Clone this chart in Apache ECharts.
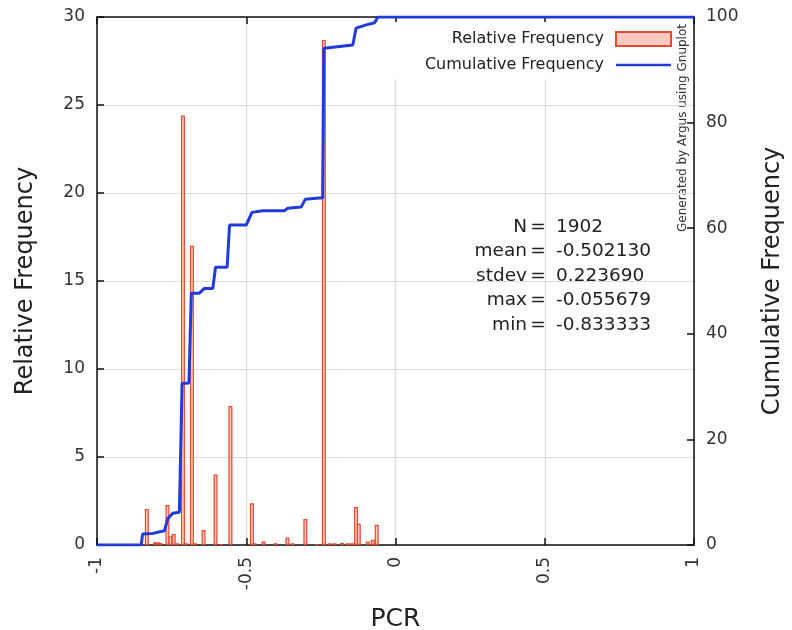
<!DOCTYPE html>
<html>
<head>
<meta charset="utf-8">
<script src="https://cdn.jsdelivr.net/npm/echarts@6/dist/echarts.min.js"></script>
<style>
  html, body { margin: 0; padding: 0; background: #fff; }
  #chart { width: 792px; height: 630px; }
</style>
</head>
<body>
<div id="chart"></div>
<script>
// PCR 直方图 + 累计频率
var FONT = 'DejaVu Sans';

// 相对频率 (%), [PCR, 值]
var relFreq = [
    [-0.833, 2.05], [-0.805, 0.15], [-0.797, 0.15], [-0.788, 0.12], [-0.764, 2.27],
    [-0.754, 0.5], [-0.743, 0.63], [-0.731, 0.1], [-0.712, 24.4], [-0.702, 0.1],
    [-0.682, 17.0], [-0.672, 0.1], [-0.643, 0.85], [-0.603, 4.0], [-0.585, 0.05],
    [-0.553, 7.9], [-0.481, 2.37], [-0.472, 0.1], [-0.442, 0.2], [-0.402, 0.1],
    [-0.362, 0.42], [-0.345, 0.1], [-0.302, 1.48], [-0.263, 0.05], [-0.240, 28.7],
    [-0.221, 0.1], [-0.204, 0.1], [-0.179, 0.12], [-0.160, 0.1], [-0.146, 0.1],
    [-0.132, 2.16], [-0.123, 1.21], [-0.093, 0.2], [-0.076, 0.3], [-0.063, 1.15]
];

// 累计频率 (%), [PCR, 值]
var cumFreq = [
    [-1, 0], [-0.852, 0], [-0.847, 2.1], [-0.813, 2.2], [-0.774, 2.7], [-0.763, 5.0],
    [-0.746, 6.0], [-0.724, 6.2], [-0.715, 30.6], [-0.692, 30.7], [-0.684, 47.7],
    [-0.657, 47.7], [-0.640, 48.6], [-0.612, 48.6], [-0.603, 52.6], [-0.564, 52.6],
    [-0.556, 60.6], [-0.500, 60.6], [-0.481, 63.0], [-0.445, 63.3], [-0.372, 63.3],
    [-0.361, 63.8], [-0.316, 64.0], [-0.302, 65.5], [-0.255, 65.7], [-0.244, 65.7],
    [-0.240, 94.1], [-0.143, 94.7], [-0.132, 97.9], [-0.098, 98.5], [-0.070, 98.9],
    [-0.059, 100], [1, 100]
];

var xTicks = [-1, -0.5, 0, 0.5, 1];
var statNames = ['N', 'mean', 'stdev', 'max', 'min'];
var statValues = ['1902', '-0.502130', '0.223690', '-0.055679', '-0.833333'];

var chart = echarts.init(document.getElementById('chart'));

var statFont = '18.5px "' + FONT + '"';
var statGraphics = [];
for (var i = 0; i < statNames.length; i++) {
    var cy = 227 + i * 24.5;
    statGraphics.push({
        type: 'text', x: 527, y: cy,
        style: { text: statNames[i], font: statFont, fill: '#222', align: 'right', verticalAlign: 'middle' }
    });
    statGraphics.push({
        type: 'text', x: 538, y: cy,
        style: { text: '=', font: statFont, fill: '#222', align: 'center', verticalAlign: 'middle' }
    });
    statGraphics.push({
        type: 'text', x: 556, y: cy,
        style: { text: statValues[i], font: statFont, fill: '#222', align: 'left', verticalAlign: 'middle' }
    });
}
statGraphics.push({
    type: 'text', x: 683, y: 128, rotation: Math.PI / 2,
    style: { text: 'Generated by Argus using Gnuplot', font: '12px "' + FONT + '"', fill: '#333', align: 'center', verticalAlign: 'middle' }
});

var axisLine = { show: true, onZero: false, lineStyle: { color: '#111', width: 1.5 } };
var axisTick = { show: true, inside: true, length: 7, lineStyle: { color: '#111', width: 1.5 } };

var option = {
    animation: false,
    backgroundColor: '#fff',
    textStyle: { fontFamily: FONT },
    grid: { left: 97, right: 98, top: 17, bottom: 85, containLabel: false, outerBoundsMode: 'none' },
    legend: {
        orient: 'vertical', align: 'right',
        right: 116, top: 22,
        itemWidth: 55, itemHeight: 14, itemGap: 10,
        padding: [9, 4, 6, 35],
        backgroundColor: '#fff',
        textStyle: { fontFamily: FONT, fontSize: 16, color: '#222', padding: [0, 7, 0, 0] },
        data: [
            { name: 'Relative Frequency', icon: 'rect' },
            { name: 'Cumulative Frequency', icon: 'path://M0,0L0,0M0,14L0,14M0,5.7L55,5.7L55,8.3L0,8.3Z' }
        ]
    },
    xAxis: [{
        type: 'value', min: -1, max: 1, interval: 0.5,
        name: 'PCR', nameLocation: 'middle', nameGap: 62,
        nameTextStyle: { fontSize: 25, color: '#222', fontFamily: FONT },
        axisLine: axisLine,
        axisTick: axisTick,
        axisLabel: {
            rotate: 90, fontSize: 17, color: '#333', margin: 12,
            formatter: function(v) { return xTicks.indexOf(v) >= 0 ? String(v) : ''; }
        },
        splitLine: { show: true, lineStyle: { color: '#dcdcdc', width: 1.2 } }
    }, {
        type: 'value', min: -1, max: 1, interval: 0.5, position: 'top',
        axisLine: axisLine,
        axisTick: axisTick,
        axisLabel: { show: false },
        splitLine: { show: false }
    }],
    yAxis: [{
        type: 'value', min: 0, max: 30, interval: 5,
        name: 'Relative Frequency', nameLocation: 'middle', nameRotate: 90, nameGap: 59,
        nameTextStyle: { fontSize: 24, color: '#222', fontFamily: FONT },
        axisLine: axisLine,
        axisTick: axisTick,
        axisLabel: { fontSize: 17, color: '#333', margin: 12 },
        splitLine: { show: true, lineStyle: { color: '#dcdcdc', width: 1.2 } }
    }, {
        type: 'value', min: 0, max: 100, interval: 20, position: 'right',
        name: 'Cumulative Frequency', nameLocation: 'middle', nameRotate: 90, nameGap: 67,
        nameTextStyle: { fontSize: 24, color: '#222', fontFamily: FONT },
        axisLine: axisLine,
        axisTick: axisTick,
        axisLabel: { fontSize: 17, color: '#333', margin: 12 },
        splitLine: { show: false }
    }],
    graphic: statGraphics,
    series: [{
        name: 'Relative Frequency',
        type: 'bar',
        xAxisIndex: 0, yAxisIndex: 0,
        barWidth: 4,
        data: relFreq,
        itemStyle: { color: '#fcc8c0', borderColor: '#e8482f', borderWidth: 1.2 },
        z: 2
    }, {
        name: 'Cumulative Frequency',
        type: 'line',
        xAxisIndex: 0, yAxisIndex: 1,
        data: cumFreq,
        showSymbol: false, symbol: 'none',
        lineStyle: { color: '#1f3bdc', width: 3 },
        itemStyle: { color: '#1f3bdc' },
        z: 3
    }]
};

chart.setOption(option);
</script>
</body>
</html>
